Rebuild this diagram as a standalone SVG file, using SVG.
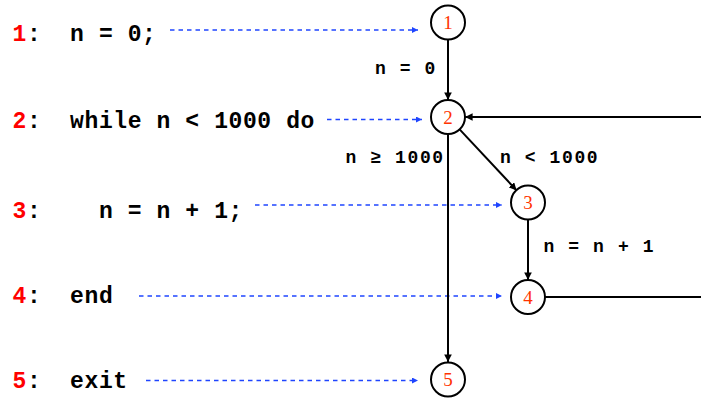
<svg xmlns="http://www.w3.org/2000/svg" width="701" height="398" viewBox="0 0 701 398">
  <style>
    .code { font-family: "Liberation Mono", "Courier New", monospace; font-weight: bold; font-size: 23px; letter-spacing: 0.6px; fill: #000; white-space: pre; }
    .ln { fill: #ff0000; }
    .lbl { font-family: "Liberation Mono", "Courier New", monospace; font-weight: bold; font-size: 18px; letter-spacing: 1.6px; fill: #000; white-space: pre; }
    .node circle { fill: #fff; stroke: #000; stroke-width: 2; }
    .node text { font-family: "Liberation Serif", "Times New Roman", serif; font-size: 19px; fill: #ff3300; text-anchor: middle; }
    .edge { stroke: #000; stroke-width: 2; fill: none; }
    .map { stroke: #1f45ff; stroke-width: 1.5; stroke-dasharray: 4.5 4; fill: none; }
  </style>
  <defs>
    <marker id="arrow" viewBox="0 0 10 10" refX="10" refY="5" markerWidth="3.8" markerHeight="3.8" orient="auto" markerUnits="strokeWidth">
      <path d="M0,0 L10,5 L0,10 Z" fill="#000"/>
    </marker>
    <marker id="arrowBlue" viewBox="0 0 10 10" refX="10" refY="5" markerWidth="4" markerHeight="4" orient="auto" markerUnits="strokeWidth">
      <path d="M0,0 L10,5 L0,10 Z" fill="#1f45ff"/>
    </marker>
  </defs>

  <!-- source listing -->
  <g id="listing">
    <text class="code" x="12.5" y="41" xml:space="preserve"><tspan class="ln">1</tspan>:  n = 0;</text>
    <text class="code" x="12.5" y="128" xml:space="preserve"><tspan class="ln">2</tspan>:  while n &lt; 1000 do</text>
    <text class="code" x="12.5" y="217.5" xml:space="preserve"><tspan class="ln">3</tspan>:    n = n + 1;</text>
    <text class="code" x="12.5" y="303" xml:space="preserve"><tspan class="ln">4</tspan>:  end</text>
    <text class="code" x="12.5" y="388" xml:space="preserve"><tspan class="ln">5</tspan>:  exit</text>
  </g>

  <!-- mapping from statements to graph nodes -->
  <g id="mapping">
    <line class="map" x1="170" y1="30" x2="418" y2="30" marker-end="url(#arrowBlue)"/>
    <line class="map" x1="327" y1="119.5" x2="422" y2="119.5" marker-end="url(#arrowBlue)"/>
    <line class="map" x1="255" y1="205" x2="502" y2="205" marker-end="url(#arrowBlue)"/>
    <line class="map" x1="139" y1="296" x2="502" y2="296" marker-end="url(#arrowBlue)"/>
    <line class="map" x1="146" y1="380.5" x2="418" y2="380.5" marker-end="url(#arrowBlue)"/>
  </g>

  <!-- control flow edges -->
  <g id="connectors">
    <line class="edge" x1="448" y1="39.5" x2="448" y2="100" marker-end="url(#arrow)"/>
    <line class="edge" x1="448" y1="134" x2="448" y2="362" marker-end="url(#arrow)"/>
    <line class="edge" x1="459.6" y1="129.4" x2="516.6" y2="190.4" marker-end="url(#arrow)"/>
    <line class="edge" x1="528" y1="219.5" x2="528" y2="280" marker-end="url(#arrow)"/>
    <line class="edge" x1="545" y1="297" x2="701" y2="297"/>
    <line class="edge" x1="701" y1="117" x2="465" y2="117" marker-end="url(#arrow)"/>
  </g>

  <!-- edge labels -->
  <g id="edge-labels">
    <text class="lbl" x="375" y="73.5">n = 0</text>
    <text class="lbl" x="345.5" y="163">n ≥ 1000</text>
    <text class="lbl" x="500" y="163">n &lt; 1000</text>
    <text class="lbl" x="543.5" y="251.5">n = n + 1</text>
  </g>

  <g id="node1" class="node"><circle cx="448" cy="22.5" r="17"/><text x="448" y="29">1</text></g>
  <g id="node2" class="node"><circle cx="448" cy="117" r="17"/><text x="448" y="123.5">2</text></g>
  <g id="node3" class="node"><circle cx="528" cy="202.5" r="17"/><text x="528" y="209">3</text></g>
  <g id="node4" class="node"><circle cx="528" cy="297" r="17"/><text x="528" y="303.5">4</text></g>
  <g id="node5" class="node"><circle cx="448" cy="379.5" r="17"/><text x="448" y="386">5</text></g>
</svg>
